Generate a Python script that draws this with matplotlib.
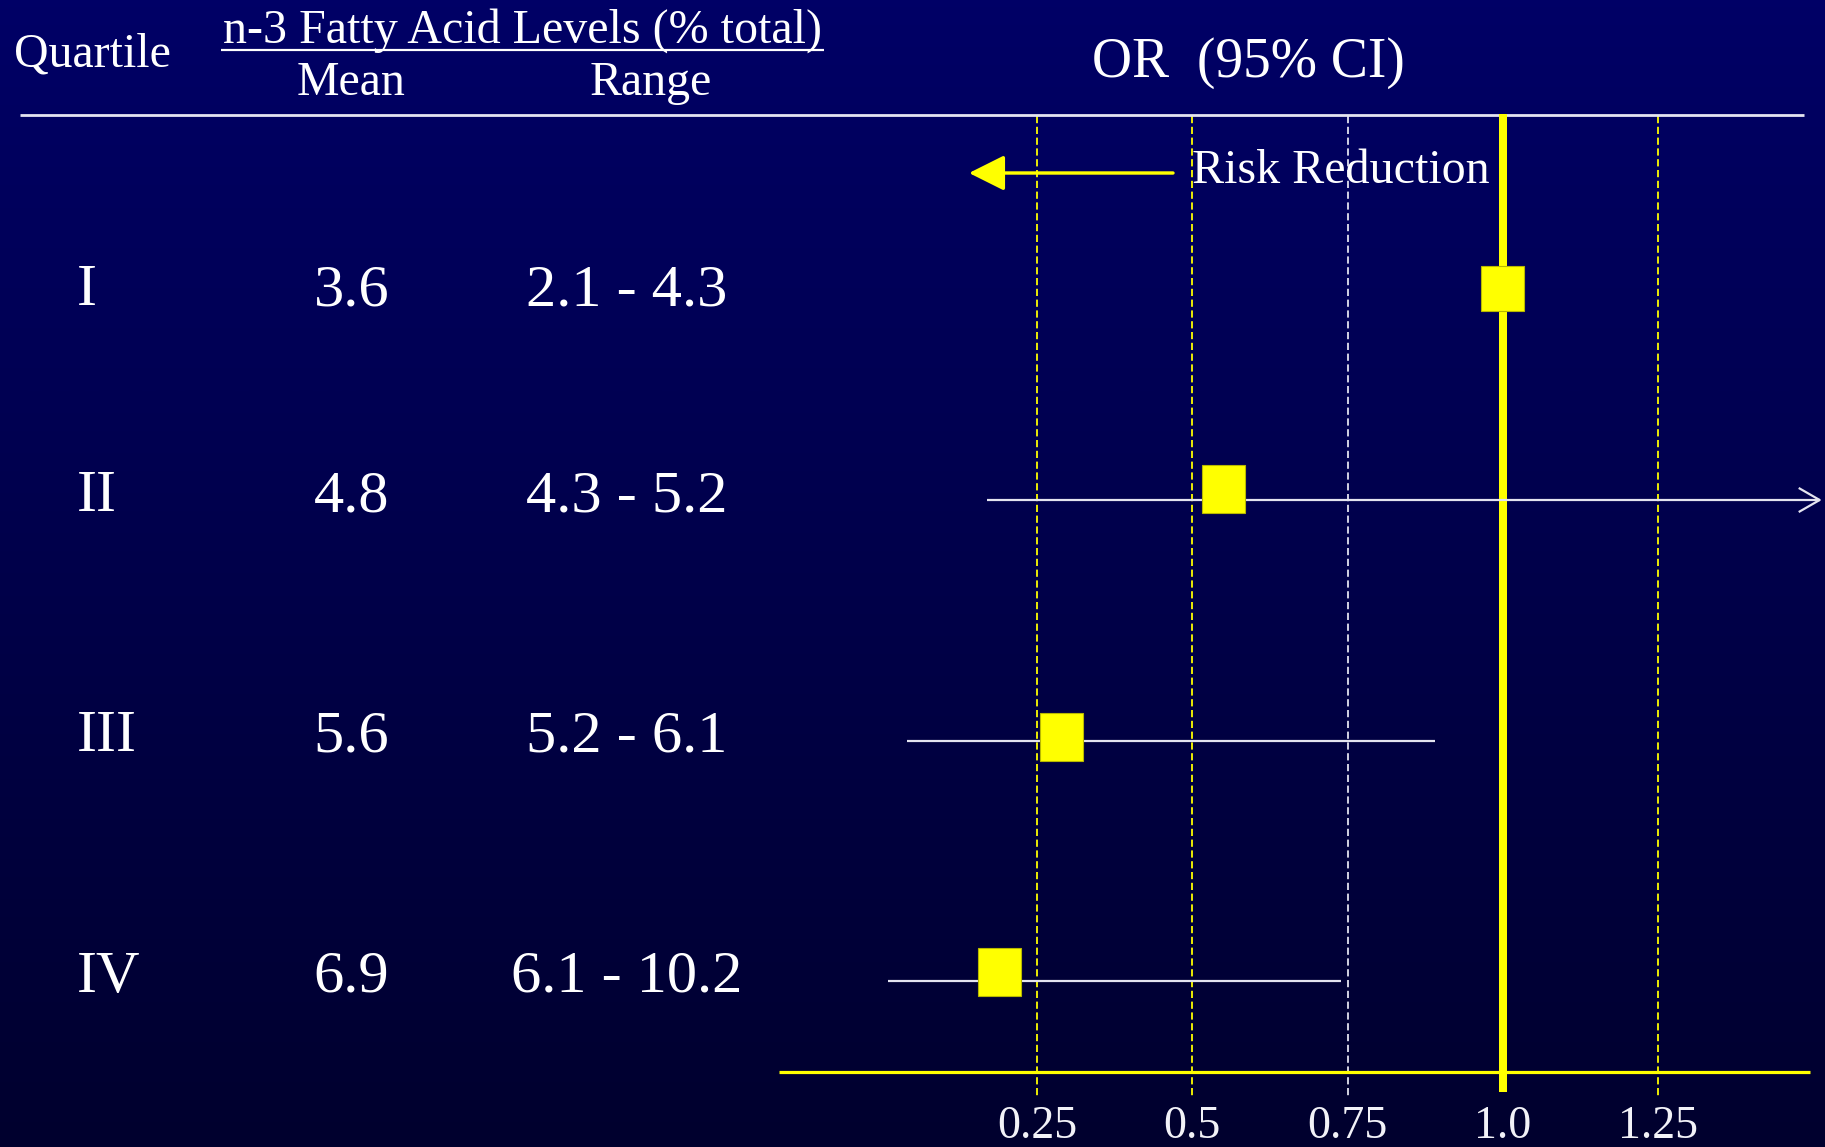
import numpy as np
import matplotlib
matplotlib.use("Agg")
import matplotlib.pyplot as plt
from matplotlib.patches import Rectangle
from matplotlib.colors import LinearSegmentedColormap

# ---- data ----
quartiles = ["I", "II", "III", "IV"]
mean_levels = ["3.6", "4.8", "5.6", "6.9"]
level_ranges = ["2.1 - 4.3", "4.3 - 5.2", "5.2 - 6.1", "6.1 - 10.2"]
odds_ratio = [1.0, 0.55, 0.29, 0.19]
ci_low = [np.nan, 0.17, 0.04, 0.01]
ci_high = [np.nan, 1.51, 0.89, 0.74]
grid_ticks = [0.25, 0.5, 0.75, 1.0, 1.25]
tick_labels = ["0.25", "0.5", "0.75", "1.0", "1.25"]

# ---- layout (figure pixels) ----
W, H = 1825, 1147
DPI = 100
ORIGIN_PX = 881.8          # pixel column of OR = 0
UNIT_PX = 621.1            # pixels per OR unit
AXIS_MAX = 1.494           # right end of the OR axis
text_base = [305, 511, 751, 992]
box_y = [288, 489, 737, 972]
line_y = [None, 500, 741, 981]

SERIF = ["Liberation Serif", "DejaVu Serif"]
WHITE = "#ffffff"
YELLOW = "#ffff00"
LIGHT = "#e4e4f0"


def px(x):
    """Convert a pixel column to OR-axis data units."""
    return (x - ORIGIN_PX) / UNIT_PX


def pt(p):
    """Pixels to points."""
    return p * 72.0 / DPI


fig = plt.figure(figsize=(W / DPI, H / DPI), dpi=DPI)
ax = fig.add_axes([0, 0, 1, 1])
X0, X1 = px(0), px(W)

# navy background fading towards the bottom
bg = LinearSegmentedColormap.from_list("bg", ["#000066", "#00002e"])
grad = np.linspace(0, 1, 256).reshape(-1, 1)
ax.imshow(grad, cmap=bg, extent=[X0, X1, H, 0], aspect="auto", zorder=0,
          interpolation="bicubic")
ax.set_xlim(X0, X1)
ax.set_ylim(H, 0)
ax.axis("off")

# ---- header ----
ax.text(px(14), 66, "Quartile", family=SERIF, fontsize=34.5, color=WHITE,
        ha="left", va="baseline")
ax.text(px(522.5), 43, "n-3 Fatty Acid Levels (% total)", family=SERIF,
        fontsize=34.6, color=WHITE, ha="center", va="baseline")
ax.plot([px(221), px(824)], [50, 50], color=WHITE, lw=pt(2.2),
        solid_capstyle="butt")
ax.text(px(351.5), 95, "Mean", family=SERIF, fontsize=34.5, color=WHITE,
        ha="center", va="baseline")
ax.text(px(650.6), 95, "Range", family=SERIF, fontsize=34.5, color=WHITE,
        ha="center", va="baseline")
ax.text(px(1248), 77, "OR  (95% CI)", family=SERIF, fontsize=40,
        color=WHITE, ha="center", va="baseline")

# rule under the header
ax.plot([px(20), px(1804)], [115, 115], color=LIGHT, lw=pt(2.8),
        solid_capstyle="butt", zorder=3)

# ---- reference lines ----
for v in grid_ticks:
    if v == 1.0:
        ax.plot([v, v], [114, 1092], color=YELLOW, lw=pt(8),
                solid_capstyle="butt", zorder=4)
    else:
        col = LIGHT if v == 0.75 else YELLOW
        ax.plot([v, v], [116, 1097], color=col, lw=pt(1.8),
                dashes=(4, 2), zorder=2)

# bottom axis line and tick labels
ax.plot([px(779), AXIS_MAX], [1072, 1072], color=YELLOW, lw=pt(3.2),
        solid_capstyle="butt", zorder=3)
for v, lab in zip(grid_ticks, tick_labels):
    ax.text(v, 1138, lab, family=SERIF, fontsize=33, color="#f2f2f8",
            ha="center", va="baseline")

# risk-reduction arrow
ax.annotate("", xy=(px(969), 173), xytext=(px(1173), 173),
            arrowprops=dict(arrowstyle="-|>,head_length=1.0,head_width=0.5",
                            color=YELLOW, lw=pt(3.4), mutation_scale=22,
                            shrinkA=0, shrinkB=0), zorder=4)
ax.text(px(1192), 183, "Risk Reduction", family=SERIF, fontsize=34.6,
        color=WHITE, ha="left", va="baseline", zorder=5)

# ---- table rows and forest plot ----
box_w = 43 / UNIT_PX
for i, q in enumerate(quartiles):
    yb = text_base[i]
    ax.text(px(77), yb, q, family=SERIF, fontsize=43.5, color=WHITE,
            ha="left", va="baseline")
    ax.text(px(351.5), yb, mean_levels[i], family=SERIF, fontsize=43.5,
            color=WHITE, ha="center", va="baseline")
    ax.text(px(627), yb, level_ranges[i], family=SERIF, fontsize=43.5,
            color=WHITE, ha="center", va="baseline")

    # confidence interval
    if not np.isnan(ci_low[i]):
        ly = line_y[i]
        hi = ci_high[i]
        ax.plot([ci_low[i], hi], [ly, ly], color=LIGHT, lw=pt(2.2),
                solid_capstyle="butt", zorder=5)
        if hi > AXIS_MAX:
            hl = 20 / UNIT_PX
            ax.plot([hi - hl, hi, hi - hl], [ly - 11.5, ly, ly + 11.5],
                    color=LIGHT, lw=pt(2.2), zorder=5)

    # point estimate
    bh = 45 if i == 0 else 48
    ax.add_patch(Rectangle((odds_ratio[i] - box_w / 2, box_y[i] - bh / 2),
                           box_w, bh, facecolor=YELLOW, edgecolor="#b8b800",
                           lw=0.8, zorder=6))

fig.savefig("out.png", dpi=DPI)
